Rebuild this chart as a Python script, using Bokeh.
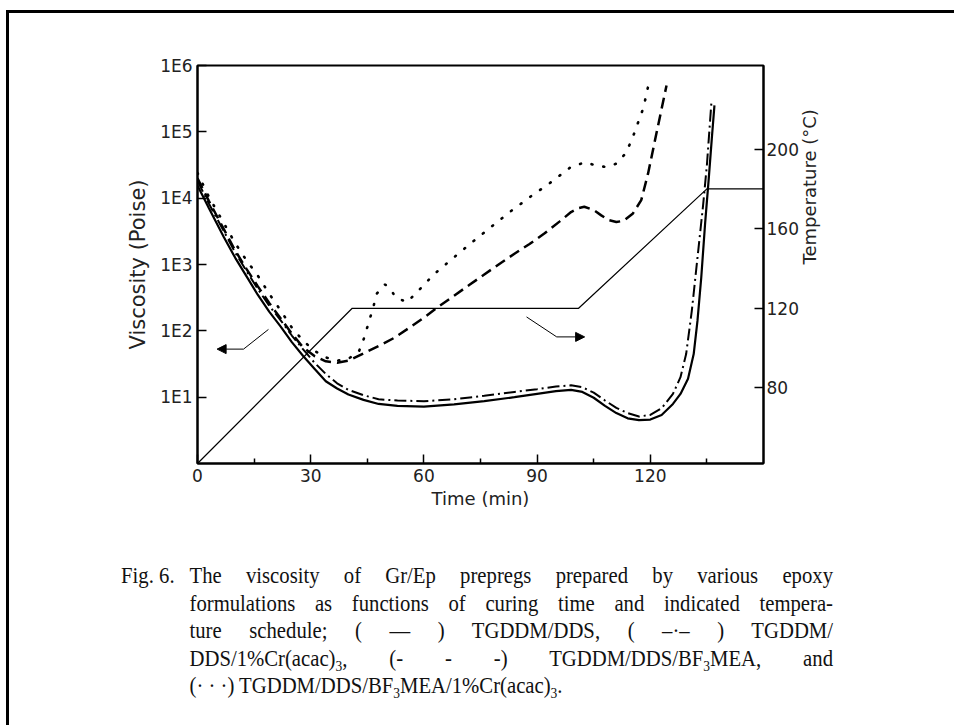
import math
from bokeh.plotting import figure
from bokeh.models import (Range1d, LinearAxis, LinearScale, FixedTicker, Arrow, NormalHead,
                          Div, CustomJSTickFormatter)
from bokeh.layouts import column
from bokeh.embed import file_html
from bokeh.resources import INLINE

# ---------------- data ----------------
# TGDDM/DDS (solid)
t_solid = [0, 3, 7, 10, 13, 16, 19, 22, 25, 28, 31, 34, 37, 40, 44, 48, 53, 60, 68, 76,
           84, 90, 95, 99, 102, 105, 108, 111, 114, 117, 120, 123, 126, 128, 130, 131.5,
           132.5, 133.5, 134.5, 135.5, 136.3, 137]
v_solid = [1.55e4, 7.08e3, 2.57e3, 1.26e3, 661, 347, 195, 117, 67.6, 41.7, 26.9, 17.4,
           13.5, 11.0, 9.1, 7.9, 7.4, 7.2, 7.8, 8.7, 10.0, 11.2, 12.3, 12.9, 12.0, 9.8,
           7.4, 5.75, 4.8, 4.5, 4.6, 5.4, 7.9, 11.2, 19.0, 44.7, 141, 631, 3.98e3,
           2.0e4, 7.9e4, 2.5e5]

# TGDDM/DDS/1%Cr(acac)3 (dash-dot)
t_dashdot = [0, 3, 7, 10, 13, 16, 19, 22, 25, 28, 31, 34, 37, 40, 44, 48, 53, 60, 68, 76,
             84, 90, 95, 99, 102, 105, 108, 111, 114, 117, 120, 123, 126, 128, 129.5,
             131, 132.5, 134, 135, 136.2]
v_dashdot = [1.82e4, 8.3e3, 3.16e3, 1.51e3, 794, 427, 240, 145, 85, 52.5, 33.1, 22.4,
             16.2, 12.9, 10.7, 9.3, 8.9, 8.7, 9.3, 10.5, 12.0, 13.2, 14.5, 15.1, 14.1,
             11.7, 8.9, 6.9, 5.75, 5.1, 5.4, 6.8, 11.2, 20.0, 44.7, 200, 1.26e3, 7.9e3,
             3.16e4, 2.8e5]

# TGDDM/DDS/BF3MEA (dashed)
t_dashed = [0, 3, 7, 10, 13, 16, 19, 22, 25, 28, 31, 34, 37, 40, 44, 48, 52, 56, 60, 64,
            68, 72, 76, 80, 84, 88, 92, 96, 99, 101, 102.5, 105, 107, 109, 111, 113,
            115.4, 117.6, 119.4, 121.6, 124.3]
v_dashed = [2.0e4, 9.1e3, 3.39e3, 1.62e3, 851, 468, 263, 155, 91, 56, 41.7, 34.7, 33.1,
            35.5, 45.7, 58.9, 77.6, 110, 158, 234, 339, 490, 708, 1.02e3, 1.45e3,
            2.04e3, 2.95e3, 4.47e3, 6.17e3, 7.08e3, 7.41e3, 6.61e3, 5.5e3, 4.68e3,
            4.37e3, 4.57e3, 5.89e3, 9.33e3, 2.34e4, 9.33e4, 5.0e5]

# TGDDM/DDS/BF3MEA/1%Cr(acac)3 (dotted)
t_dotted = [0, 3, 7, 10, 13, 16, 19, 22, 25, 28, 31, 34, 37, 40, 42.7, 43.8, 45.3, 46.6,
            47.5, 49.7, 51.2, 52.4, 55.5, 58.1, 62.8, 67.8, 73.1, 78.1, 83.2, 88.4, 93.7,
            98.7, 102.6, 105.3, 108.1, 111, 113.4, 114.7, 115.9, 117, 118.1, 118.8, 119.4]
v_dotted = [2.4e4, 1.05e4, 4.17e3, 2.09e3, 1.15e3, 676, 363, 204, 112, 70.8, 50.1, 39.8,
            35.5, 38.0, 47.9, 67.6, 129, 229, 363, 501, 427, 324, 269, 380, 724, 1.26e3,
            2.24e3, 3.8e3, 6.46e3, 1.07e4, 1.74e4, 2.88e4, 3.47e4, 3.16e4, 2.95e4,
            3.31e4, 4.68e4, 6.76e4, 1.0e5, 1.51e5, 2.24e5, 3.31e5, 4.79e5]

# temperature schedule (right axis, deg C)
t_temp = [0, 41, 101, 135, 150]
temp = [42, 120, 120, 180, 180]

# annotation arrows (time, viscosity)
left_arrow_t = [18.8, 12.2, 5.2]
left_arrow_v = [105, 53, 53]
right_arrow_t = [87.2, 95.2, 102.6]
right_arrow_v = [162, 81, 81]

x_ticks = [0, 30, 60, 90, 120]
x_minor = [15, 45, 75, 105, 135]
y_ticks = [10, 100, 1e3, 1e4, 1e5, 1e6]
temp_ticks = [80, 120, 160, 200]

# ---------------- figure ----------------
W, H = 945, 520
p = figure(width=W, height=H, x_range=Range1d(0, 150), y_range=Range1d(1, 1e6),
           y_axis_type="log", output_backend="svg", toolbar_location=None,
           min_border_left=188, min_border_right=191, min_border_top=52,
           min_border_bottom=70)
p.xgrid.visible = False
p.ygrid.visible = False
p.outline_line_color = "black"
p.outline_line_width = 2
p.background_fill_color = "white"
p.border_fill_color = "white"

p.extra_y_ranges = {"temp": Range1d(42, 242)}
p.extra_y_scales = {"temp": LinearScale()}
rax = LinearAxis(y_range_name="temp", ticker=FixedTicker(ticks=temp_ticks),
                 axis_label="Temperature (°C)")
p.add_layout(rax, "right")

p.xaxis.ticker = FixedTicker(ticks=x_ticks, minor_ticks=x_minor)
p.xaxis.axis_label = "Time (min)"
p.yaxis[0].ticker = FixedTicker(ticks=y_ticks)
p.yaxis[0].formatter = CustomJSTickFormatter(code="return '1E' + Math.round(Math.log10(tick));")
p.yaxis[0].axis_label = "Viscosity (Poise)"

for ax in [p.xaxis[0], p.yaxis[0], rax]:
    ax.axis_line_width = 2
    ax.axis_line_color = "black"
    ax.major_tick_in = 9
    ax.major_tick_out = 0
    ax.major_tick_line_width = 1.5
    ax.major_tick_line_color = "black"
    ax.minor_tick_in = 5
    ax.minor_tick_out = 0
    ax.minor_tick_line_width = 1.5
    ax.major_label_text_font = "DejaVu Sans"
    ax.major_label_text_font_size = "17px"
    ax.major_label_text_color = "#222222"
    ax.axis_label_text_font = "DejaVu Sans"
    ax.axis_label_text_font_size = "18px"
    ax.axis_label_text_font_style = "normal"
    ax.axis_label_text_color = "#222222"
p.yaxis[0].axis_label_text_font_size = "21px"
p.yaxis[0].minor_tick_line_color = None
rax.minor_tick_line_color = None
rax.axis_label_orientation = math.pi / 2
rax.axis_label_text_align = "center"
p.yaxis[0].major_label_standoff = 5
p.yaxis[0].axis_label_standoff = 7
rax.major_label_standoff = 3
rax.axis_label_standoff = 8
p.xaxis[0].major_label_standoff = 5
p.xaxis[0].axis_label_standoff = 3

# temperature line
p.line(t_temp, temp, y_range_name="temp", line_color="black", line_width=1.2)

# viscosity curves
p.line(t_solid, v_solid, line_color="black", line_width=2.2)
p.line(t_dashdot, v_dashdot, line_color="black", line_width=2.0, line_dash="12 4 2 4")
p.line(t_dashed, v_dashed, line_color="black", line_width=2.5, line_dash="11 6")
p.line(t_dotted, v_dotted, line_color="black", line_width=2.6, line_dash="1 11",
       line_cap="round")

# arrows
p.line(left_arrow_t[:2], left_arrow_v[:2], line_color="black", line_width=1)
p.add_layout(Arrow(x_start=left_arrow_t[1], y_start=left_arrow_v[1],
                   x_end=left_arrow_t[2], y_end=left_arrow_v[2],
                   line_width=1, end=NormalHead(size=9, fill_color="black", line_color="black")))
p.line(right_arrow_t[:2], right_arrow_v[:2], line_color="black", line_width=1)
p.add_layout(Arrow(x_start=right_arrow_t[1], y_start=right_arrow_v[1],
                   x_end=right_arrow_t[2], y_end=right_arrow_v[2],
                   line_width=1, end=NormalHead(size=9, fill_color="black", line_color="black")))

# ---------------- caption ----------------
sub = '<span style="font-size:15px; position:relative; top:5px; line-height:0">3</span>'
line_style = ("position:relative; margin-left:195px; width:715px; text-align:justify; "
              "text-align-last:justify; white-space:nowrap;")
cap_html = f"""
<div style="font-family:'Liberation Serif','Times New Roman',serif; font-size:23px;
            line-height:27.5px; color:#111; padding-top:24px;
            transform:scaleX(0.9); transform-origin:left top; width:1000px;">
  <div style="{line_style}"><span style="position:absolute; left:-76px;">Fig. 6.</span>The viscosity of Gr/Ep prepregs prepared by various epoxy</div>
  <div style="{line_style}">formulations as functions of curing time and indicated tempera-</div>
  <div style="{line_style}">ture schedule; ( — ) TGDDM/DDS, ( –·– ) TGDDM/</div>
  <div style="{line_style}">DDS/1%Cr(acac){sub}, (- - -) TGDDM/DDS/BF{sub}MEA, and</div>
  <div style="position:relative; margin-left:195px; white-space:nowrap;">(· · ·) TGDDM/DDS/BF{sub}MEA/1%Cr(acac){sub}.</div>
</div>
"""
cap = Div(text=cap_html, width=W, height=192)

root = column(p, cap, margin=(10, 0, 0, 6),
              styles={"border-left": "3px solid black", "border-top": "3px solid black",
                      "background": "white"})

open("out.html", "w").write(file_html(root, INLINE))
